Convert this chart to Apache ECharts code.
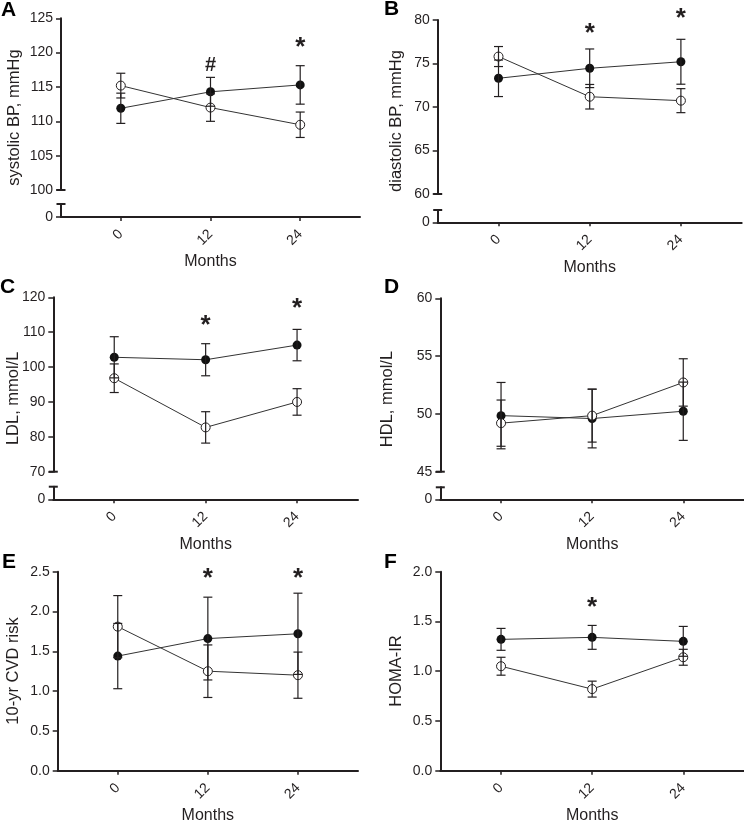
<!DOCTYPE html>
<html><head><meta charset="utf-8">
<script src="https://cdn.jsdelivr.net/npm/echarts@6/dist/echarts.min.js"></script>
<style>html,body{margin:0;padding:0;background:#fff}#c{width:744px;height:824px}</style>
</head><body><div id="c"></div>
<script>
// ---- data ----
const months = [0, 12, 24];

// A: systolic BP
const sbpFilled = [111.9, 114.3, 115.3];
const sbpFilledSem = [2.2, 2.1, 2.8];
const sbpOpen = [115.2, 112.0, 109.5];
const sbpOpenSem = [1.8, 2.0, 1.85];
const sbpMarks = ['', '#', '*'];
const sbpMarkY = [null, 118.1, 121.6];

// B: diastolic BP
const dbpFilled = [73.3, 74.45, 75.2];
const dbpFilledSem = [2.1, 2.22, 2.58];
const dbpOpen = [75.8, 71.18, 70.73];
const dbpOpenSem = [1.15, 1.41, 1.38];
const dbpMarks = ['', '*', '*'];
const dbpMarkY = [null, 79.05, 80.77];

// C: LDL
const ldlFilled = [102.8, 102.1, 106.3];
const ldlFilledSem = [5.9, 4.6, 4.5];
const ldlOpen = [96.8, 82.7, 90.0];
const ldlOpenSem = [4.1, 4.5, 3.8];
const ldlMarks = ['', '*', '*'];
const ldlMarkY = [null, 113.5, 118.3];

// D: HDL
const hdlFilled = [49.85, 49.6, 50.23];
const hdlFilledSem = [2.87, 2.54, 2.52];
const hdlOpen = [49.2, 49.85, 52.72];
const hdlOpenSem = [2.0, 2.29, 2.05];
const hdlMarks = ['', '', ''];
const hdlMarkY = [null, null, null];

// E: 10-yr CVD risk
const cvdFilled = [1.44, 1.66, 1.72];
const cvdFilledSem = [0.41, 0.52, 0.51];
const cvdOpen = [1.81, 1.25, 1.20];
const cvdOpenSem = [0.39, 0.33, 0.29];
const cvdMarks = ['', '*', '*'];
const cvdMarkY = [null, 2.49, 2.49];

// F: HOMA-IR
const homaFilled = [1.32, 1.34, 1.30];
const homaFilledSem = [0.11, 0.12, 0.15];
const homaOpen = [1.05, 0.82, 1.14];
const homaOpenSem = [0.09, 0.08, 0.08];
const homaMarks = ['', '*', ''];
const homaMarkY = [null, 1.70, null];

// ---- panels ----
const panels = [
  {letter:'A', name:'systolic BP, mmHg', filled:sbpFilled, filledSem:sbpFilledSem, open:sbpOpen, openSem:sbpOpenSem,
   marks:sbpMarks, markY:sbpMarkY, min:100, max:125, interval:5, brk:true, dec:0,
   L:{left:61, width:299, top:18.3, height:171.7, lowTop:204, lowHeight:13, nameX:14.5, nameY:117.6, letterX:1, letterY:21}},
  {letter:'B', name:'diastolic BP, mmHg', filled:dbpFilled, filledSem:dbpFilledSem, open:dbpOpen, openSem:dbpOpenSem,
   marks:dbpMarks, markY:dbpMarkY, min:60, max:80, interval:5, brk:true, dec:0,
   L:{left:437.7, width:304, top:20, height:174, lowTop:210, lowHeight:12.3, nameX:396.5, nameY:121, letterX:384, letterY:20}},
  {letter:'C', name:'LDL, mmol/L', filled:ldlFilled, filledSem:ldlFilledSem, open:ldlOpen, openSem:ldlOpenSem,
   marks:ldlMarks, markY:ldlMarkY, min:70, max:120, interval:10, brk:true, dec:0,
   L:{left:53.3, width:304.7, top:297.3, height:174.4, lowTop:486.7, lowHeight:12.6, nameX:13.5, nameY:398.3, letterX:0, letterY:298}},
  {letter:'D', name:'HDL, mmol/L', filled:hdlFilled, filledSem:hdlFilledSem, open:hdlOpen, openSem:hdlOpenSem,
   marks:hdlMarks, markY:hdlMarkY, min:45, max:60, interval:5, brk:true, dec:0,
   L:{left:440.3, width:303.7, top:298.3, height:173.4, lowTop:487.3, lowHeight:12, nameX:387, nameY:399, letterX:384, letterY:298}},
  {letter:'E', name:'10-yr CVD risk', filled:cvdFilled, filledSem:cvdFilledSem, open:cvdOpen, openSem:cvdOpenSem,
   marks:cvdMarks, markY:cvdMarkY, min:0, max:2.5, interval:0.5, brk:false, dec:1,
   L:{left:57.7, width:300.3, top:571.7, height:199, nameX:13.5, nameY:671, letterX:2, letterY:573}},
  {letter:'F', name:'HOMA-IR', filled:homaFilled, filledSem:homaFilledSem, open:homaOpen, openSem:homaOpenSem,
   marks:homaMarks, markY:homaMarkY, min:0, max:2.0, interval:0.5, brk:false, dec:1,
   L:{left:440.3, width:303.7, top:571.7, height:199, nameX:396.5, nameY:671, letterX:384, letterY:573}}
];

const font = "'Liberation Sans', Arial, Helvetica, sans-serif";
const ink = '#231f20';
const xMin = -8, xMax = 32;

const grids = [], xAxes = [], yAxes = [], series = [], graphics = [];

function visibleX(gi) {
  return {
    gridIndex: gi, type: 'value', min: xMin, max: xMax,
    axisLine: {show: true, onZero: false, lineStyle: {color: ink, width: 2}},
    axisTick: {show: true, customValues: months, length: 4, lineStyle: {color: ink, width: 1.5}},
    axisLabel: {customValues: months, rotate: 45, margin: 15, fontSize: 14, color: ink, fontFamily: font},
    splitLine: {show: false},
    name: 'Months', nameLocation: 'middle', nameGap: 37,
    nameTextStyle: {fontSize: 16, color: ink, fontFamily: font}
  };
}

function capSeries(gi, atTop, yv) {
  return {
    type: 'custom', xAxisIndex: gi, yAxisIndex: gi, clip: false, silent: true, z: 5,
    data: [[0, yv]],
    renderItem: function (params) {
      const cs = params.coordSys;
      const y = atTop ? cs.y : cs.y + cs.height;
      return {type: 'line', shape: {x1: cs.x - 4.5, y1: y, x2: cs.x + 4.5, y2: y},
              style: {stroke: ink, lineWidth: 2}};
    }
  };
}

function errSeries(gi, vals, sem) {
  return {
    type: 'custom', xAxisIndex: gi, yAxisIndex: gi, silent: true, z: 4, clip: false,
    encode: {x: 0, y: [1, 2]},
    data: months.map((m, i) => [m, vals[i] - sem[i], vals[i] + sem[i]]),
    renderItem: function (params, api) {
      const lo = api.coord([api.value(0), api.value(1)]);
      const hi = api.coord([api.value(0), api.value(2)]);
      const w = 4.5, st = {stroke: ink, lineWidth: 1.2};
      return {type: 'group', children: [
        {type: 'line', shape: {x1: lo[0], y1: lo[1], x2: hi[0], y2: hi[1]}, style: st},
        {type: 'line', shape: {x1: lo[0] - w, y1: lo[1], x2: lo[0] + w, y2: lo[1]}, style: st},
        {type: 'line', shape: {x1: hi[0] - w, y1: hi[1], x2: hi[0] + w, y2: hi[1]}, style: st}
      ]};
    }
  };
}

panels.forEach(p => {
  const L = p.L;
  const gi = grids.length;
  grids.push({left: L.left, top: L.top, width: L.width, height: L.height, containLabel: false, outerBoundsMode: 'none'});
  if (p.brk) {
    xAxes.push({gridIndex: gi, type: 'value', min: xMin, max: xMax, show: false, axisLine: {onZero: false}});
  } else {
    xAxes.push(visibleX(gi));
  }
  yAxes.push({
    gridIndex: gi, type: 'value', min: p.min, max: p.max, interval: p.interval,
    axisLine: {show: true, onZero: false, lineStyle: {color: ink, width: 2}},
    axisTick: {show: true, length: 5, lineStyle: {color: ink, width: 1.5}},
    axisLabel: {margin: 8, fontSize: 14, color: ink, fontFamily: font,
                formatter: v => p.dec ? v.toFixed(p.dec) : String(v)},
    splitLine: {show: false}
  });

  // connecting lines + markers
  series.push({
    type: 'line', xAxisIndex: gi, yAxisIndex: gi, z: 2,
    data: months.map((m, i) => [m, p.filled[i]]),
    symbol: 'circle', symbolSize: 9,
    itemStyle: {color: '#111'}, lineStyle: {color: '#333', width: 1}, animation: false
  });
  series.push({
    type: 'line', xAxisIndex: gi, yAxisIndex: gi, z: 3,
    data: months.map((m, i) => [m, p.open[i]]),
    symbol: 'circle', symbolSize: 9,
    itemStyle: {color: '#fff', borderColor: ink, borderWidth: 1}, lineStyle: {color: '#333', width: 1}, animation: false
  });
  series.push(errSeries(gi, p.filled, p.filledSem));
  series.push(errSeries(gi, p.open, p.openSem));

  // significance marks
  const items = months.map((m, i) => ({x: m, y: p.markY[i], t: p.marks[i]})).filter(d => d.t);
  if (items.length) {
    series.push({
      type: 'custom', xAxisIndex: gi, yAxisIndex: gi, silent: true, z: 6, clip: false,
      data: items.map(d => [d.x, d.y]),
      renderItem: function (params, api) {
        const pt = api.coord([api.value(0), api.value(1)]);
        const t = items[params.dataIndex].t;
        const star = t === '*';
        return {type: 'text', x: pt[0], y: pt[1] + (star ? 6 : 0),
                style: {text: t, fill: ink, textAlign: 'center', textVerticalAlign: 'middle',
                        font: 'bold ' + (star ? 26 : 20) + 'px ' + font}};
      }
    });
  }

  if (p.brk) {
    series.push(capSeries(gi, false, p.min));
    const li = grids.length;
    grids.push({left: L.left, top: L.lowTop, width: L.width, height: L.lowHeight, containLabel: false, outerBoundsMode: 'none'});
    xAxes.push(visibleX(li));
    yAxes.push({
      gridIndex: li, type: 'value', min: 0, max: 1, interval: 1,
      axisLine: {show: true, onZero: false, lineStyle: {color: ink, width: 2}},
      axisTick: {show: true, customValues: [0], length: 5, lineStyle: {color: ink, width: 1.5}},
      axisLabel: {customValues: [0], margin: 8, fontSize: 14, color: ink, fontFamily: font},
      splitLine: {show: false}
    });
    series.push(capSeries(li, true, 0));
  }

  graphics.push({type: 'text', x: L.nameX, y: L.nameY, rotation: Math.PI / 2,
    style: {text: p.name, fill: ink, textAlign: 'center', textVerticalAlign: 'middle', font: '16.5px ' + font}});
  graphics.push({type: 'text', x: L.letterX, y: L.letterY,
    style: {text: p.letter, fill: '#000', textAlign: 'left', textVerticalAlign: 'bottom', font: 'bold 21px ' + font}});
});

const chart = echarts.init(document.getElementById('c'), null, {renderer: 'canvas'});
chart.setOption({
  animation: false,
  backgroundColor: '#fff',
  grid: grids, xAxis: xAxes, yAxis: yAxes, series: series, graphic: graphics
});
</script>
</body></html>
